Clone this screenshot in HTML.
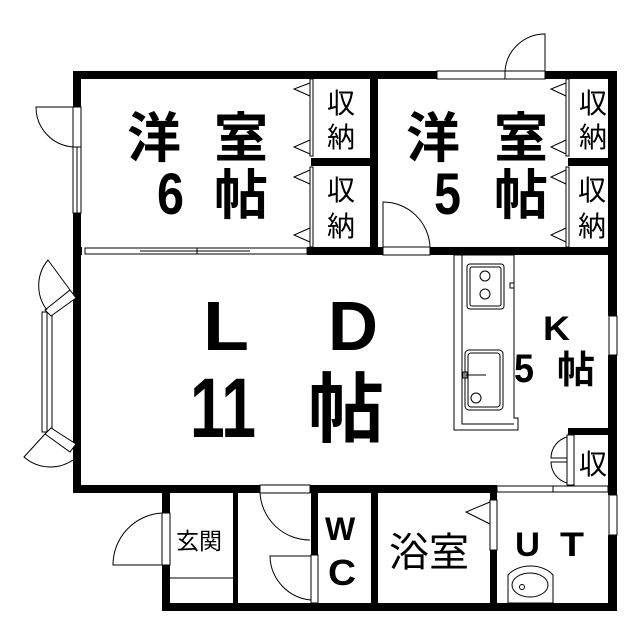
<!DOCTYPE html>
<html><head><meta charset="utf-8"><style>
html,body{margin:0;padding:0;background:#fff}
svg{display:block}
text{font-family:"Liberation Sans","Noto Sans CJK JP",sans-serif;font-weight:bold;fill:#000}
text.n{font-weight:normal}
.t{stroke:#000;stroke-width:1;fill:#fff}
.a{stroke:#000;stroke-width:1;fill:none}
</style></head><body>
<svg width="639" height="640" viewBox="0 0 639 640" xmlns="http://www.w3.org/2000/svg">
<rect width="639" height="640" fill="#fff"/>
<g fill="#000">
<rect x="73" y="71" width="364" height="8"/>
<rect x="545" y="71" width="72" height="8"/>
<rect x="608" y="71" width="9" height="245"/>
<rect x="608" y="355" width="9" height="140"/>
<rect x="608" y="535" width="9" height="75"/>
<rect x="73" y="71" width="8" height="36"/>
<rect x="73" y="213" width="8" height="280"/>
<rect x="370" y="71" width="8" height="184"/>
<rect x="311" y="158" width="67" height="8"/>
<rect x="568" y="158" width="40" height="8"/>
<rect x="73" y="247" width="9" height="8"/>
<rect x="307" y="247" width="76" height="8"/>
<rect x="430" y="247" width="187" height="8"/>
<rect x="454" y="255" width="8" height="53"/>
<rect x="73" y="485" width="187" height="8"/>
<rect x="310" y="485" width="187" height="8"/>
<rect x="162" y="485" width="8" height="10"/>
<rect x="162" y="493" width="8" height="20"/>
<rect x="162" y="565" width="8" height="45"/>
<rect x="162" y="603" width="455" height="8"/>
<rect x="233" y="493" width="5" height="110"/>
<rect x="311" y="485" width="7" height="70"/>
<rect x="371" y="493" width="7" height="110"/>
<rect x="490" y="550" width="7" height="55"/>
<rect x="490" y="485" width="7" height="15"/>
<rect x="568" y="428" width="48" height="7"/>
</g>
<rect x="437" y="71" width="68" height="8" class="t"/>
<rect x="505" y="71" width="40" height="8" class="t"/>
<path d="M505 71 A40 40 0 0 1 545 34 L545 71" class="a"/>
<rect x="73" y="107" width="8" height="40" class="t"/>
<rect x="73" y="147" width="8" height="66" class="t"/>
<line x1="77" y1="147" x2="77" y2="213" class="a"/>
<path d="M73 147 A40 40 0 0 1 36 107 L73 107" class="a"/>
<rect x="310" y="79" width="3" height="77" class="t"/>
<rect x="310" y="167" width="3" height="80" class="t"/>
<path d="M310 83 L294 89 L310 96 M310 140 L294 147 L310 154 M310 170 L294 177 L310 184 M310 228 L294 235 L310 242" class="a"/>
<rect x="566" y="79" width="3" height="77" class="t"/>
<rect x="566" y="167" width="3" height="80" class="t"/>
<path d="M566 83 L551 89 L566 96 M566 140 L551 147 L566 154 M566 170 L551 177 L566 184 M566 228 L551 235 L566 242" class="a"/>
<rect x="85" y="248" width="222" height="6" class="t"/>
<line x1="140" y1="251" x2="250" y2="251" class="a"/>
<line x1="197" y1="248" x2="197" y2="254" class="a"/>
<rect x="383" y="247" width="47" height="8" class="t"/>
<path d="M383 247 L383 202 A47 47 0 0 1 430 247" class="a"/>
<rect x="42" y="312" width="10" height="120" class="t"/>
<line x1="47" y1="312" x2="47" y2="432" class="a"/>
<path d="M45 310 L70 290 L76 298 L51 316 Z" class="t"/>
<path d="M47 310 A40 40 0 0 1 48 260 L70 290" class="a"/>
<path d="M45 434 L70 452 L76 444 L51 428 Z" class="t"/>
<path d="M45 434 L24 457 A40 40 0 0 0 73 460" class="a"/>
<path d="M454 255 L514 255 L514 418 L518 418 L518 430 L454 430 Z" class="t"/>
<path d="M462 255 L462 424 L514 424" class="a"/>
<rect x="467" y="264" width="37" height="45" rx="3" class="t"/>
<rect x="470" y="267" width="31" height="39" rx="2" class="a"/>
<circle cx="485" cy="276" r="5" class="a"/><circle cx="485" cy="294" r="5" class="a"/>
<rect x="510" y="283" width="4" height="5" class="a"/>
<rect x="465" y="350" width="38" height="60" rx="4" class="t"/>
<rect x="468" y="353" width="32" height="54" rx="3" class="a"/>
<line x1="466" y1="375" x2="486" y2="375" class="a"/>
<rect x="463" y="372" width="4" height="6" class="a"/>
<circle cx="476" cy="398" r="5" class="a"/>
<rect x="609" y="316" width="8" height="39" class="t"/>
<rect x="567" y="435" width="7" height="50" class="t"/>
<path d="M567 437 A22 22 0 0 0 551 458 L567 458 M567 483 A22 22 0 0 1 551 462 L567 462" class="a"/>
<rect x="497" y="486" width="111" height="6" class="t"/>
<line x1="553" y1="486" x2="553" y2="492" class="a"/>
<rect x="609" y="495" width="8" height="40" class="t"/>
<rect x="490" y="500" width="7" height="50" class="t"/>
<path d="M490 502 L466 512 L490 524" class="a"/>
<rect x="162" y="513" width="8" height="52" class="t"/>
<path d="M162 513 A52 52 0 0 0 113 565 L162 565" class="a"/>
<line x1="170" y1="578" x2="233" y2="578" class="a"/>
<rect x="260" y="485" width="50" height="8" class="t"/>
<path d="M260 493 A50 50 0 0 0 310 540" class="a"/>
<rect x="311" y="555" width="7" height="48" class="t"/>
<path d="M311 556 L270 556 A45 45 0 0 0 311 600" class="a"/>
<path d="M508 603 L508 575 A26 18 0 0 1 553 575 L553 603 Z" class="t"/>
<ellipse cx="530" cy="585" rx="18" ry="12" class="a"/>
<circle cx="522" cy="587" r="2.5" class="a"/>
<!-- labels -->
<text x="127" y="157" font-size="54">洋</text>
<text x="214" y="157" font-size="54">室</text>
<text x="157" y="214" font-size="58" textLength="27" lengthAdjust="spacingAndGlyphs">6</text>
<text x="214" y="214" font-size="54">帖</text>
<text x="406" y="157" font-size="54">洋</text>
<text x="494" y="157" font-size="54">室</text>
<text x="434" y="214" font-size="58" textLength="27" lengthAdjust="spacingAndGlyphs">5</text>
<text x="494" y="214" font-size="54">帖</text>
<g font-size="28">
<text class="n" x="327" y="113">収</text><text class="n" x="327" y="147">納</text>
<text class="n" x="327" y="200">収</text><text class="n" x="327" y="236">納</text>
<text class="n" x="579" y="113">収</text><text class="n" x="579" y="147">納</text>
<text class="n" x="578" y="200">収</text><text class="n" x="578" y="236">納</text>
<text class="n" x="579" y="474">収</text>
</g>
<text x="203" y="350" font-size="70" textLength="46" lengthAdjust="spacingAndGlyphs">L</text>
<text x="328" y="350" font-size="70" textLength="50" lengthAdjust="spacingAndGlyphs">D</text>
<text x="190" y="437" font-size="84" textLength="66" lengthAdjust="spacingAndGlyphs">11</text>
<text x="308" y="436" font-size="76">帖</text>
<text x="543" y="340" font-size="34" textLength="27" lengthAdjust="spacingAndGlyphs">K</text>
<text x="514" y="382" font-size="40" textLength="20" lengthAdjust="spacingAndGlyphs">5</text>
<text x="557" y="383" font-size="38">帖</text>
<text x="176" y="549" font-size="23" class="n">玄関</text>
<text x="325" y="540" font-size="32">W</text>
<text x="328" y="585" font-size="36" textLength="28" lengthAdjust="spacingAndGlyphs">C</text>
<text x="389" y="566" font-size="40" class="n">浴室</text>
<text x="515" y="556" font-size="34" textLength="25" lengthAdjust="spacingAndGlyphs">U</text>
<text x="560" y="556" font-size="34" textLength="24" lengthAdjust="spacingAndGlyphs">T</text>
</svg>
</body></html>
